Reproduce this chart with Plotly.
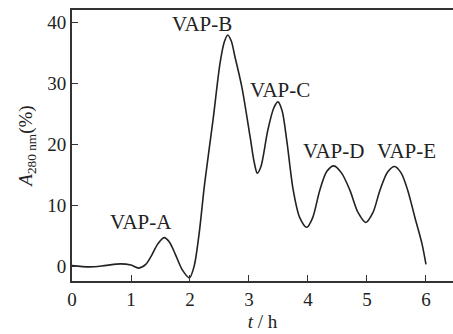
import plotly.graph_objects as go

t_h = [0, 0.3, 0.55, 0.82, 1.0, 1.13, 1.25, 1.35, 1.45, 1.56, 1.65, 1.75, 1.87, 1.99,
       2.07, 2.15, 2.25, 2.39, 2.51, 2.58, 2.64, 2.7, 2.76, 2.88, 3.02, 3.09, 3.14, 3.2, 3.32, 3.42, 3.49,
       3.56, 3.64, 3.75, 3.86, 3.98, 4.08, 4.2, 4.32, 4.44, 4.57, 4.71, 4.85, 4.98,
       5.1, 5.22, 5.35, 5.47, 5.58, 5.69, 5.81, 5.93, 6.0]
a280 = [0.1, -0.1, 0.1, 0.4, 0.2, -0.3, 0.3, 1.8, 3.6, 4.7, 4.0, 2.0, -0.6, -1.9,
        0.0, 5.0, 13.7, 24.0, 33.4, 36.8, 38.0, 37.0, 34.5, 29.4, 21.2, 17.0, 15.3, 16.3, 22.4, 26.0, 27.0,
        25.6, 20.7, 12.5, 8.0, 6.4, 8.0, 12.5, 15.6, 16.5, 15.3, 12.5, 8.8, 7.2,
        8.8, 12.5, 15.5, 16.4, 15.3, 12.5, 8.1, 3.8, 0.3]

peak_labels = ["VAP-A", "VAP-B", "VAP-C", "VAP-D", "VAP-E"]
label_t = [1.17, 2.2, 3.53, 4.43, 5.67]
label_a = [7.2, 39.8, 29.0, 18.9, 18.9]

x_ticks = [0, 1, 2, 3, 4, 5, 6]
y_ticks = [0, 10, 20, 30, 40]

serif = "Liberation Serif"
axis_color = "#333333"

fig = go.Figure()
fig.add_trace(go.Scatter(x=t_h, y=a280, mode="lines",
                         line=dict(color="#222222", width=1.6, shape="spline", smoothing=0.85),
                         showlegend=False, hoverinfo="skip"))

for lab, tx, ty in zip(peak_labels, label_t, label_a):
    fig.add_annotation(x=tx, y=ty, xref="x", yref="y", text=lab, showarrow=False,
                       font=dict(family=serif, size=21, color="#222222"),
                       xanchor="center", yanchor="middle")

fig.update_layout(
    width=453, height=334,
    margin=dict(l=72, r=0, t=10, b=53),
    paper_bgcolor="white", plot_bgcolor="white",
    font=dict(family=serif, color="#222222"),
    xaxis=dict(range=[0, 6.458], tickvals=x_ticks, ticks="inside", ticklen=6,
               tickwidth=1.3, tickcolor=axis_color, showline=True, linecolor=axis_color,
               linewidth=1.8, mirror=True, showgrid=False, zeroline=False,
               tickfont=dict(family=serif, size=19, color="#222222"),
               title=dict(text="<i>t</i> / h", font=dict(family=serif, size=19), standoff=6)),
    yaxis=dict(range=[-2.42, 42.1], tickvals=y_ticks, ticks="inside", ticklen=6,
               tickwidth=1.3, tickcolor=axis_color, showline=True, linecolor=axis_color,
               linewidth=1.8, mirror=False, showgrid=False, zeroline=False,
               tickfont=dict(family=serif, size=19, color="#222222"),
               title=dict(text="<i>A</i><sub>280 nm</sub>(%)", font=dict(family=serif, size=19), standoff=10)),
)

fig.write_html("out.html")
